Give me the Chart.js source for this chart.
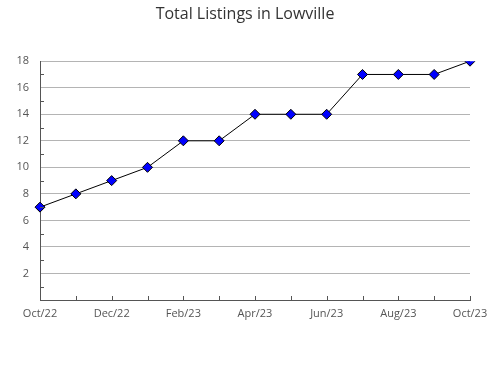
<!DOCTYPE html>
<html lang="en">
<head>
    <meta charset="UTF-8">
    <title>Total Listings in Lowville</title>
    <script src="https://cdn.jsdelivr.net/npm/chart.js@4.4.1/dist/chart.umd.min.js"></script>
    <style>
        * { margin: 0; padding: 0; }
        body { background: #fff; width: 490px; height: 380px; overflow: hidden; }
        .chart-box { position: relative; width: 490px; height: 380px; }
    </style>
</head>
<body>
    <div class="chart-box"><canvas id="chart" width="490" height="380"></canvas></div>
    <script>
        const months = ['Oct/22', 'Nov/22', 'Dec/22', 'Jan/23', 'Feb/23', 'Mar/23', 'Apr/23',
                        'May/23', 'Jun/23', 'Jul/23', 'Aug/23', 'Sep/23', 'Oct/23'];
        const listings = [7, 8, 9, 10, 12, 12, 14, 14, 14, 17, 17, 17, 18];
        const yTicks = [2, 4, 6, 8, 10, 12, 14, 16, 18];

        // small inward tick marks on both axes
        const innerTicks = {
            id: 'innerTicks',
            afterDraw(chart) {
                const ctx = chart.ctx;
                const x = chart.scales.x, y = chart.scales.y;
                ctx.save();
                ctx.strokeStyle = '#555';
                ctx.lineWidth = 1;
                ctx.beginPath();
                months.forEach((m, i) => {
                    const px = Math.round(x.getPixelForValue(i)) + 0.5;
                    ctx.moveTo(px, y.bottom);
                    ctx.lineTo(px, y.bottom - 4);
                });
                for (let v = 1; v < 18; v += 2) {
                    const py = Math.round(y.getPixelForValue(v)) + 0.5;
                    ctx.moveTo(x.left, py);
                    ctx.lineTo(x.left + 4, py);
                }
                ctx.stroke();
                ctx.restore();
            }
        };

        new Chart(document.getElementById('chart'), {
            type: 'line',
            data: {
                labels: months,
                datasets: [{
                    data: listings,
                    borderColor: '#000',
                    borderWidth: 1,
                    tension: 0,
                    pointStyle: 'rectRot',
                    pointRadius: 5,
                    pointBackgroundColor: '#0000ff',
                    pointBorderColor: '#000',
                    pointBorderWidth: 1
                }]
            },
            options: {
                responsive: false,
                animation: false,
                layout: { padding: 0 },
                plugins: {
                    legend: { display: false },
                    tooltip: { enabled: false },
                    title: {
                        display: true,
                        text: 'Total Listings in Lowville',
                        color: '#333',
                        font: { family: 'Open Sans', size: 16, weight: 'normal' },
                        padding: { top: 5, bottom: 37 }
                    }
                },
                scales: {
                    x: {
                        offset: false,
                        grid: { display: false, drawTicks: false, tickLength: 0 },
                        border: { color: '#555' },
                        ticks: {
                            autoSkip: false,
                            maxRotation: 0,
                            padding: 7,
                            color: '#555',
                            font: { family: 'Open Sans', size: 11 },
                            callback: (v, i) => i % 2 === 0 ? months[i] : ''
                        },
                        afterFit: s => { s.height = 80; s.paddingLeft = 0; s.paddingRight = 20; }
                    },
                    y: {
                        min: 0,
                        max: 18,
                        border: { color: '#555' },
                        grid: {
                            drawTicks: false,
                            color: c => yTicks.includes(c.tick.value) ? '#b4b4b4' : 'rgba(0,0,0,0)'
                        },
                        ticks: {
                            stepSize: 1,
                            autoSkip: false,
                            padding: 11,
                            color: '#555',
                            font: { family: 'Open Sans', size: 11 },
                            callback: v => yTicks.includes(v) ? String(v) : ''
                        },
                        afterFit: s => { s.width = 40; }
                    }
                }
            },
            plugins: [innerTicks]
        });
    </script>
</body>
</html>
